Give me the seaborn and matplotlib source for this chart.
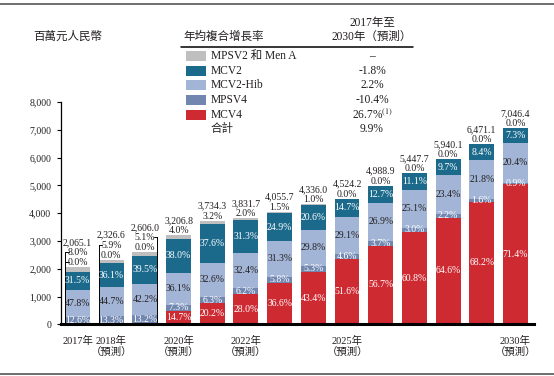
import matplotlib
matplotlib.use("Agg")
import numpy as np
import pandas as pd
import seaborn as sns
import matplotlib.pyplot as plt
from matplotlib.patches import Rectangle
from matplotlib.lines import Line2D

# data (RMB million, share of total in %)
YEARS = [str(y) for y in range(2017, 2031)]
TOTALS = [2065.1, 2326.6, 2606.0, 3206.8, 3734.3, 3831.7, 4055.7,
          4336.0, 4524.2, 4988.9, 5447.7, 5940.1, 6471.1, 7046.4]
MCV4 = [0.0, 0.0, 0.0, 14.7, 20.2, 28.0, 36.6, 43.4, 51.6, 56.7, 60.8, 64.6, 68.2, 71.4]
MPSV4 = [12.6, 13.3, 13.2, 7.3, 6.3, 6.2, 5.8, 5.3, 4.6, 3.7, 3.0, 2.2, 1.6, 0.9]
MCV2_HIB = [47.8, 44.7, 42.2, 36.1, 32.6, 32.4, 31.3, 29.8, 29.1, 26.9, 25.1, 23.4, 21.8, 20.4]
MCV2 = [31.5, 36.1, 39.5, 38.0, 37.6, 31.3, 24.9, 20.6, 14.7, 12.7, 11.1, 9.7, 8.4, 7.3]
MPSV2 = [8.0, 5.9, 5.1, 4.0, 3.2, 2.0, 1.5, 1.0, 0.0, 0.0, 0.0, 0.0, 0.0, 0.0]

TICK_LABELS = ["2017年", "2018年\n（預測）", "", "2020年\n（預測）", "", "2022年\n（預測）", "",
               "", "2025年\n（預測）", "", "", "", "", "2030年\n（預測）"]
Y_TICKS = [0, 1000, 2000, 3000, 4000, 5000, 6000, 7000, 8000]

SERIES = ["MPSV2 和 Men A", "MCV2", "MCV2-Hib", "MPSV4", "MCV4"]
CAGR = ["–", "-1.8%", "2.2%", "-10.4%", "26.7%$^{(1)}$"]
CAGR_TOTAL = "9.9%"

COLORS = {"MPSV2": "#bfbfbf", "MCV2": "#1b6a8c", "MCV2_HIB": "#a3b5d6",
          "MPSV4": "#7187b0", "MCV4": "#cd2a32"}
DARK = "#231f20"

sns.set_theme(style="ticks")
plt.rcParams.update({
    "font.family": ["Liberation Serif", "Noto Sans CJK TC"],
    "mathtext.fontset": "stix",
    "axes.unicode_minus": False,
})

W, H = 554, 376
fig = plt.figure(figsize=(W / 100, H / 100), dpi=100)


def fx(px):
    return px / W


def fy(py):
    return 1 - py / H


# axes placed in pixels: y-axis at x=61, base at y=324.3, 8000 at y=102
ax_l, ax_r, ax_b, ax_t = 61, 534, 324.3, 102
ax = fig.add_axes([fx(ax_l), fy(ax_b), fx(ax_r - ax_l), (ax_b - ax_t) / H])

df = pd.DataFrame({"year": YEARS, "total": TOTALS, "MCV4": MCV4, "MPSV4": MPSV4,
                   "MCV2_HIB": MCV2_HIB, "MCV2": MCV2, "MPSV2": MPSV2})
order = ["MCV4", "MPSV4", "MCV2_HIB", "MCV2", "MPSV2"]
for k in order:
    df[k + "_v"] = df["total"] * df[k] / 100
df["c_MCV4"] = df["MCV4_v"]
df["c_MPSV4"] = df["c_MCV4"] + df["MPSV4_v"]
df["c_MCV2_HIB"] = df["c_MPSV4"] + df["MCV2_HIB_v"]
df["c_MCV2"] = df["c_MCV2_HIB"] + df["MCV2_v"]
df["c_MPSV2"] = df["total"]

BAR_W = 0.74
# stacked by overlaying cumulative heights, tallest first
for k in reversed(order):
    sns.barplot(data=df, x="year", y="c_" + k, order=YEARS, color=COLORS[k],
                saturation=1, width=BAR_W, errorbar=None, linewidth=0, ax=ax)

ax.set_xlim(-0.49, 13.55)
ax.set_ylim(0, 8000)
ax.set_xlabel("")
ax.set_ylabel("")
sns.despine(ax=ax)
ax.spines["left"].set_linewidth(0.9)
ax.spines["left"].set_color("black")
ax.spines["bottom"].set_linewidth(2.2)
ax.spines["bottom"].set_color("black")
ax.set_yticks(Y_TICKS)
ax.set_yticklabels([f"{v:,}" for v in Y_TICKS], fontsize=7, color=DARK)
ax.tick_params(axis="y", length=3, width=0.8, pad=4, color="black")
ax.set_xticks(range(len(YEARS)))
ax.set_xticklabels(TICK_LABELS, fontsize=7.5, color=DARK, linespacing=1.15)
ax.tick_params(axis="x", length=0, pad=8)

# labels inside segments
inside = [("MCV4", "white"), ("MPSV4", "white"), ("MCV2_HIB", DARK), ("MCV2", "white")]
for i, row in df.iterrows():
    bottom = 0.0
    for k, col in inside:
        seg = row[k + "_v"]
        if row[k] > 0:
            ax.text(i, bottom + seg / 2, f"{row[k]:.1f}%", ha="center", va="center",
                    fontsize=7, color=col)
        bottom += seg

# labels above bars
PT = 0.72  # points per pixel
lines_above = []
for i, row in df.iterrows():
    top = row["total"]
    stack = []
    if row["MCV4"] == 0:
        stack.append(f"{row['MCV4']:.1f}%")
    stack.append(f"{row['MPSV2']:.1f}%")
    stack.append(f"{row['total']:,.1f}")
    for j, s in enumerate(stack):
        ax.annotate(s, (i, top), xytext=(0, (4.5 + 10 * j) * PT), textcoords="offset points",
                    ha="center", va="center", fontsize=7, color=DARK, annotation_clip=False)

# leader lines for the first three bars (MPSV2 share)
units_per_px = 8000 / (ax_b - ax_t)
for i, side in [(0, -1), (1, -1), (2, 1)]:
    top = TOTALS[i]
    n_lines = 2 if MCV4[i] == 0 else 1
    y_lab = top + (4.5 + 10 * (n_lines - 1)) * units_per_px
    xe = i + side * BAR_W / 2
    ax.plot([xe, xe], [0, y_lab], color="black", lw=0.7, clip_on=False)
    ax.plot([xe, xe - side * 0.11], [y_lab, y_lab], color="black", lw=0.7, clip_on=False)
    if i == 0:
        y0 = top + 4.5 * units_per_px
        ax.plot([xe, xe - side * 0.11], [y0, y0], color="black", lw=0.7, clip_on=False)

# title / unit
fig.text(fx(33), fy(37), "百萬元人民幣", fontsize=8.3, color=DARK, ha="left", va="center")

# legend table
fig.text(fx(183), fy(37), "年均複合增長率", fontsize=8.3, color=DARK, ha="left", va="center")
fig.text(fx(372), fy(23), "2017年至", fontsize=8.3, color=DARK, ha="center", va="center")
fig.text(fx(372), fy(37), "2030年（預測）", fontsize=8.3, color=DARK, ha="center", va="center")
fig.add_artist(Line2D([fx(181), fx(413)], [fy(46.5), fy(46.5)], color="black", lw=1.1))

sw_colors = [COLORS["MPSV2"], COLORS["MCV2"], COLORS["MCV2_HIB"], COLORS["MPSV4"], COLORS["MCV4"]]
row_y0, row_dy = 56, 14.65
for r, (name, val, c) in enumerate(zip(SERIES, CAGR, sw_colors)):
    yc = row_y0 + r * row_dy
    fig.add_artist(Rectangle((fx(186), fy(yc + 5)), fx(20), 10 / H, color=c, lw=0))
    fig.text(fx(211), fy(yc), name, fontsize=8.3, color=DARK, ha="left", va="center")
    fig.text(fx(372), fy(yc), val, fontsize=8.3, color=DARK, ha="center", va="center")
yc = row_y0 + 5 * row_dy
fig.text(fx(211), fy(yc), "合計", fontsize=8.3, color=DARK, ha="left", va="center")
fig.text(fx(372), fy(yc), CAGR_TOTAL, fontsize=8.3, color=DARK, ha="center", va="center")

# frame rules at top and bottom
fig.add_artist(Line2D([0, 1], [fy(3.5), fy(3.5)], color="#555555", lw=1.2))
fig.add_artist(Line2D([0, 1], [fy(373.5), fy(373.5)], color="#555555", lw=1.2))

fig.savefig("out.png", dpi=100)
